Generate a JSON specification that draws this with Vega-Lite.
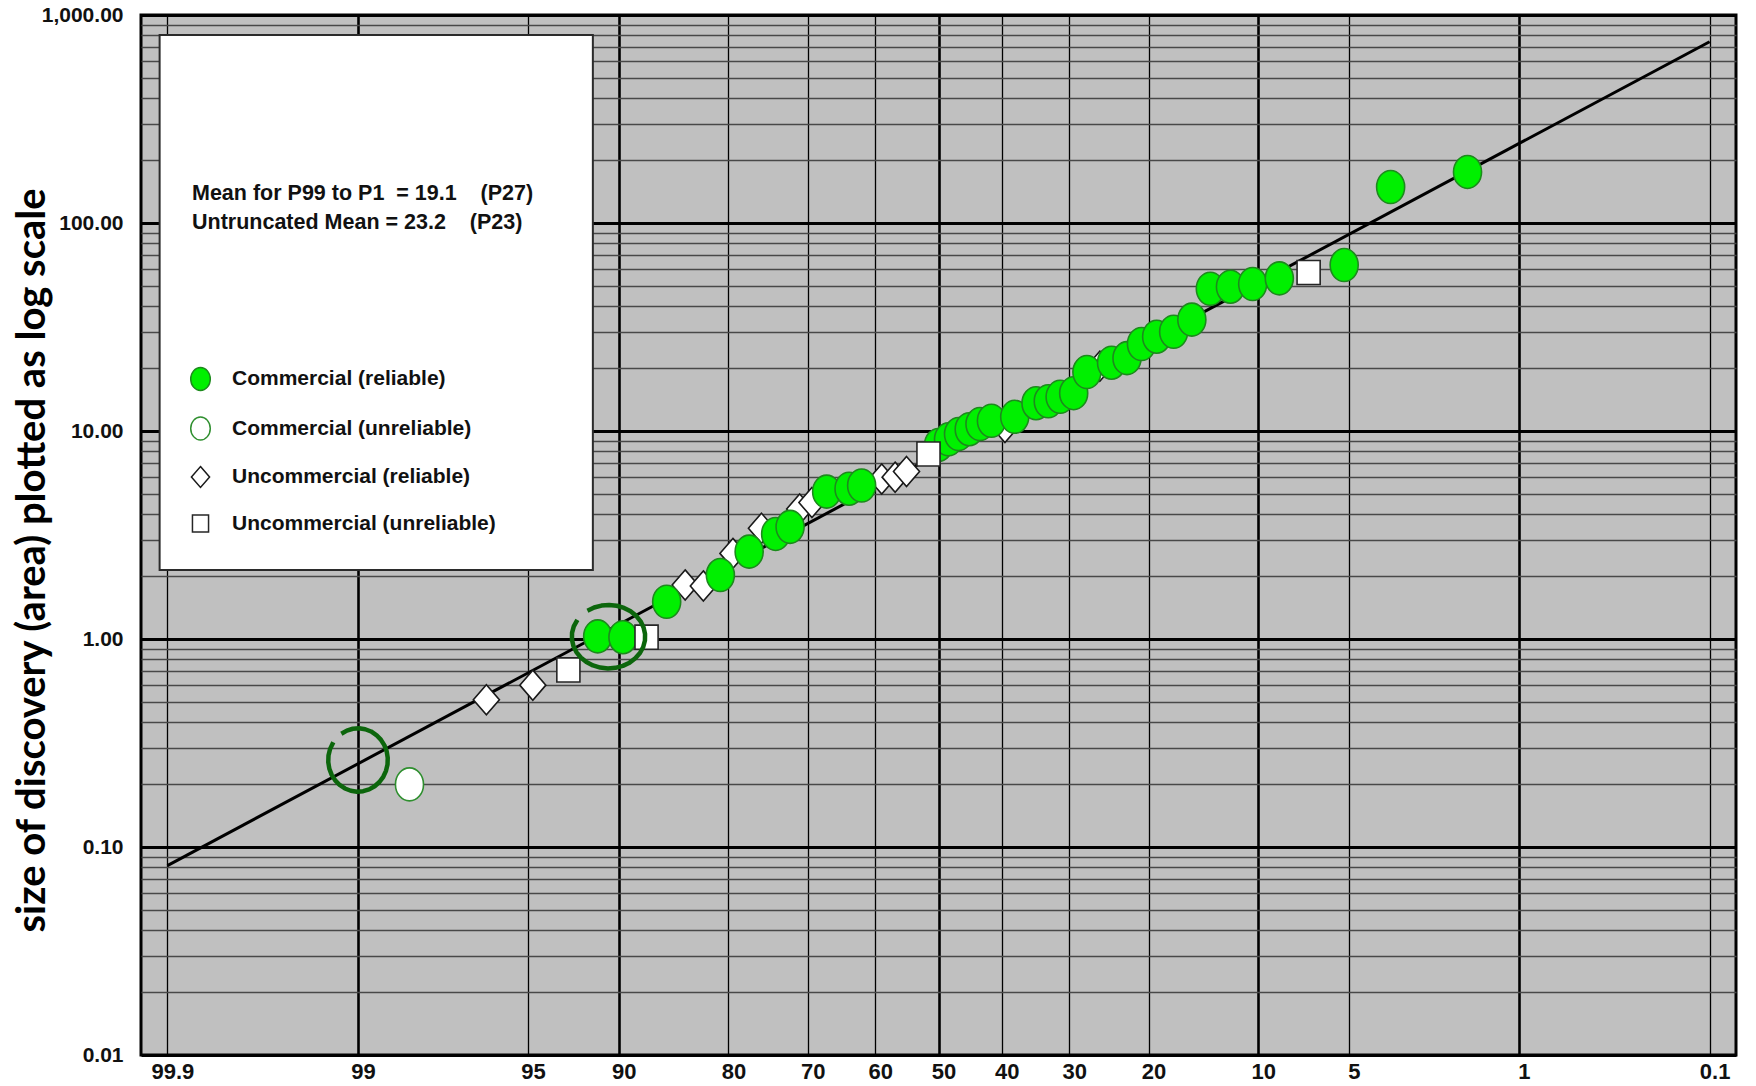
{
  "$schema": "https://vega.github.io/schema/vega-lite/v6.json",
  "width": 1595,
  "height": 1040,
  "autosize": {"type": "none"},
  "padding": {"left": 141, "top": 15, "right": 20, "bottom": 31},
  "background": "#ffffff",
  "config": {
    "view": {"fill": "#c0c0c0", "stroke": "#000000", "strokeWidth": 3},
    "font": "Liberation Sans"
  },
  "datasets": {
    "discoveries": [
      {"p": 96.5, "v": 0.51, "type": "Uncommercial (reliable)"},
      {"p": 94.8, "v": 0.60, "type": "Uncommercial (reliable)"},
      {"p": 84.5, "v": 1.82, "type": "Uncommercial (reliable)"},
      {"p": 82.7, "v": 1.80, "type": "Uncommercial (reliable)"},
      {"p": 79.5, "v": 2.58, "type": "Uncommercial (reliable)"},
      {"p": 76.1, "v": 3.41, "type": "Uncommercial (reliable)"},
      {"p": 71.1, "v": 4.22, "type": "Uncommercial (reliable)"},
      {"p": 69.4, "v": 4.53, "type": "Uncommercial (reliable)"},
      {"p": 59.0, "v": 5.88, "type": "Uncommercial (reliable)"},
      {"p": 56.9, "v": 6.00, "type": "Uncommercial (reliable)"},
      {"p": 55.1, "v": 6.39, "type": "Uncommercial (reliable)"},
      {"p": 39.5, "v": 10.4, "type": "Uncommercial (reliable)"},
      {"p": 25.9, "v": 20.5, "type": "Uncommercial (reliable)"},
      {"p": 91.4, "v": 1.03, "type": "Commercial (reliable)"},
      {"p": 89.7, "v": 1.02, "type": "Commercial (reliable)"},
      {"p": 86.2, "v": 1.51, "type": "Commercial (reliable)"},
      {"p": 80.9, "v": 2.03, "type": "Commercial (reliable)"},
      {"p": 77.6, "v": 2.63, "type": "Commercial (reliable)"},
      {"p": 74.3, "v": 3.20, "type": "Commercial (reliable)"},
      {"p": 72.4, "v": 3.46, "type": "Commercial (reliable)"},
      {"p": 67.3, "v": 5.11, "type": "Commercial (reliable)"},
      {"p": 64.0, "v": 5.28, "type": "Commercial (reliable)"},
      {"p": 62.1, "v": 5.47, "type": "Commercial (reliable)"},
      {"p": 50.0, "v": 8.57, "type": "Commercial (reliable)"},
      {"p": 48.4, "v": 9.12, "type": "Commercial (reliable)"},
      {"p": 46.8, "v": 9.67, "type": "Commercial (reliable)"},
      {"p": 45.1, "v": 10.2, "type": "Commercial (reliable)"},
      {"p": 43.4, "v": 10.8, "type": "Commercial (reliable)"},
      {"p": 41.6, "v": 11.2, "type": "Commercial (reliable)"},
      {"p": 38.0, "v": 11.7, "type": "Commercial (reliable)"},
      {"p": 34.8, "v": 13.6, "type": "Commercial (reliable)"},
      {"p": 33.0, "v": 13.9, "type": "Commercial (reliable)"},
      {"p": 31.3, "v": 14.6, "type": "Commercial (reliable)"},
      {"p": 29.4, "v": 15.2, "type": "Commercial (reliable)"},
      {"p": 27.6, "v": 19.2, "type": "Commercial (reliable)"},
      {"p": 24.4, "v": 21.3, "type": "Commercial (reliable)"},
      {"p": 22.5, "v": 22.4, "type": "Commercial (reliable)"},
      {"p": 20.8, "v": 26.2, "type": "Commercial (reliable)"},
      {"p": 19.1, "v": 28.4, "type": "Commercial (reliable)"},
      {"p": 17.3, "v": 30.0, "type": "Commercial (reliable)"},
      {"p": 15.5, "v": 34.3, "type": "Commercial (reliable)"},
      {"p": 13.8, "v": 48.3, "type": "Commercial (reliable)"},
      {"p": 12.1, "v": 49.4, "type": "Commercial (reliable)"},
      {"p": 10.4, "v": 50.9, "type": "Commercial (reliable)"},
      {"p": 8.6, "v": 54.2, "type": "Commercial (reliable)"},
      {"p": 5.2, "v": 62.8, "type": "Commercial (reliable)"},
      {"p": 3.5, "v": 149, "type": "Commercial (reliable)"},
      {"p": 1.7, "v": 176, "type": "Commercial (reliable)"},
      {"p": 93.1, "v": 0.71, "type": "Uncommercial (unreliable)"},
      {"p": 87.9, "v": 1.02, "type": "Uncommercial (unreliable)"},
      {"p": 51.6, "v": 7.75, "type": "Uncommercial (unreliable)"},
      {"p": 6.9, "v": 57.8, "type": "Uncommercial (unreliable)"},
      {"p": 98.3, "v": 0.20, "type": "Commercial (unreliable)"}
    ],
    "fit": [
      {"p": 99.9, "v": 0.0814},
      {"p": 0.1, "v": 744}
    ],
    "keybox": [
      {"p": 99.91, "pEnd": 91.7, "v": 2.147, "vEnd": 801}
    ],
    "ringLow": [{"p": 99.0, "v": 0.262}],
    "ringMid": [{"p": 90.7, "v": 1.026}]
  },
  "encoding": {
    "x": {
      "field": "z",
      "type": "quantitative",
      "scale": {"domain": [-3.196, 3.196], "nice": false, "zero": false},
      "axis": {
        "title": null,
        "values": [-3.0902, -2.3263, -1.6449, -1.2816, -0.8416, -0.5244, -0.2533, 0, 0.2533, 0.5244, 0.8416, 1.2816, 1.6449, 2.3263, 3.0902],
        "labelExpr": "format(100 * cumulativeNormal(-datum.value), '.3~r')",
        "labelFont": "Liberation Sans",
        "labelFontWeight": "bold",
        "labelFontSize": 22,
        "labelColor": "#111111",
        "labelPadding": 6,
        "labelOffset": 5,
        "labelFlush": false,
        "labelOverlap": false,
        "ticks": false,
        "tickSize": 0,
        "domain": false,
        "grid": true,
        "gridColor": "#000000",
        "gridWidth": {
          "condition": {"test": "abs(datum.value) < 0.01 || abs(abs(datum.value) - 1.2816) < 0.01 || abs(abs(datum.value) - 2.3263) < 0.01", "value": 2.6},
          "value": 1.3
        }
      }
    },
    "y": {
      "field": "v",
      "type": "quantitative",
      "scale": {"type": "log", "domain": [0.01, 1000], "nice": false},
      "axis": {
        "title": "size of discovery (area) plotted as log scale",
        "titleFont": "Lato",
        "titleFontSize": 40,
        "titleFontWeight": "bold",
        "titleColor": "#000000",
        "titleAngle": -90,
        "titleX": -109,
        "titleY": 545,
        "titleAlign": "center",
        "titleBaseline": "middle",
        "values": [0.01, 0.02, 0.03, 0.04, 0.05, 0.06, 0.07, 0.08, 0.09, 0.1, 0.2, 0.3, 0.4, 0.5, 0.6, 0.7, 0.8, 0.9, 1, 2, 3, 4, 5, 6, 7, 8, 9, 10, 20, 30, 40, 50, 60, 70, 80, 90, 100, 200, 300, 400, 500, 600, 700, 800, 900, 1000],
        "labelExpr": "abs(log(datum.value) / LN10 - round(log(datum.value) / LN10)) < 0.001 ? format(datum.value, ',.2f') : ''",
        "labelFont": "Liberation Sans",
        "labelFontWeight": "bold",
        "labelFontSize": 21,
        "labelColor": "#111111",
        "labelPadding": 18,
        "labelOverlap": false,
        "ticks": false,
        "tickSize": 0,
        "domain": false,
        "grid": true,
        "gridColor": {
          "condition": {"test": "abs(log(datum.value) / LN10 - round(log(datum.value) / LN10)) < 0.001", "value": "#000000"},
          "value": "#484848"
        },
        "gridWidth": {
          "condition": {"test": "abs(log(datum.value) / LN10 - round(log(datum.value) / LN10)) < 0.001", "value": 3},
          "value": 1.5
        }
      }
    }
  },
  "layer": [
    {
      "data": {"name": "keybox"},
      "transform": [
        {"calculate": "quantileNormal(1 - datum.p / 100)", "as": "z"},
        {"calculate": "quantileNormal(1 - datum.pEnd / 100)", "as": "zEnd"}
      ],
      "mark": {"type": "rect", "fill": "#ffffff", "stroke": "#2b2b2b", "strokeWidth": 2},
      "encoding": {
        "x2": {"field": "zEnd"},
        "y2": {"field": "vEnd"}
      }
    },
    {
      "data": {"name": "fit"},
      "transform": [
        {"calculate": "quantileNormal(1 - datum.p / 100)", "as": "z"}
      ],
      "mark": {"type": "line", "color": "#000000", "strokeWidth": 3},
      "encoding": {}
    },
    {
      "data": {"name": "discoveries"},
      "transform": [
        {"calculate": "quantileNormal(1 - datum.p / 100)", "as": "z"}
      ],
      "mark": {"type": "point", "filled": true, "opacity": 1, "size": 1089, "strokeWidth": 1.6},
      "encoding": {
        "shape": {
          "field": "type",
          "type": "nominal",
          "scale": {
            "domain": ["Commercial (reliable)", "Commercial (unreliable)", "Uncommercial (reliable)", "Uncommercial (unreliable)"],
            "range": [
              "M -0.85,0 A 0.85,1 0 1,0 0.85,0 A 0.85,1 0 1,0 -0.85,0 Z",
              "M -0.85,0 A 0.85,1 0 1,0 0.85,0 A 0.85,1 0 1,0 -0.85,0 Z",
              "M 0,-0.91 L 0.79,0 L 0,0.91 L -0.79,0 Z",
              "M -0.7,-0.73 L 0.7,-0.73 L 0.7,0.73 L -0.7,0.73 Z"
            ]
          },
          "legend": {
            "orient": "none", "legendX": 51, "legendY": 168, "padding": 0,
            "title": ["Mean for P99 to P1\u00a0\u00a0= 19.1\u00a0\u00a0\u00a0\u00a0(P27)", "Untruncated Mean = 23.2\u00a0\u00a0\u00a0\u00a0(P23)"],
            "titleFont": "Liberation Sans", "titleFontSize": 21.5, "titleFontWeight": "bold", "titleColor": "#111111",
            "titleLineHeight": 29, "titlePadding": 133, "titleLimit": 600, "titleAnchor": "start",
            "labelFont": "Liberation Sans", "labelFontSize": 21, "labelFontWeight": "bold", "labelColor": "#111111",
            "labelLimit": 600, "labelOffset": 19, "symbolOffset": -4, "symbolSize": 529, "symbolStrokeWidth": 1.5, "rowPadding": 20.5
          }
        },
        "fill": {
          "field": "type",
          "type": "nominal",
          "scale": {
            "domain": ["Commercial (reliable)", "Commercial (unreliable)", "Uncommercial (reliable)", "Uncommercial (unreliable)"],
            "range": ["#00f000", "#ffffff", "#ffffff", "#ffffff"]
          },
          "legend": {
            "orient": "none", "legendX": 51, "legendY": 168, "padding": 0,
            "title": ["Mean for P99 to P1\u00a0\u00a0= 19.1\u00a0\u00a0\u00a0\u00a0(P27)", "Untruncated Mean = 23.2\u00a0\u00a0\u00a0\u00a0(P23)"],
            "titleFont": "Liberation Sans", "titleFontSize": 21.5, "titleFontWeight": "bold", "titleColor": "#111111",
            "titleLineHeight": 29, "titlePadding": 133, "titleLimit": 600, "titleAnchor": "start",
            "labelFont": "Liberation Sans", "labelFontSize": 21, "labelFontWeight": "bold", "labelColor": "#111111",
            "labelLimit": 600, "labelOffset": 19, "symbolOffset": -4, "symbolSize": 529, "symbolStrokeWidth": 1.5, "rowPadding": 20.5
          }
        },
        "stroke": {
          "field": "type",
          "type": "nominal",
          "scale": {
            "domain": ["Commercial (reliable)", "Commercial (unreliable)", "Uncommercial (reliable)", "Uncommercial (unreliable)"],
            "range": ["#1d8a1d", "#2f8f2f", "#1a1a1a", "#262626"]
          },
          "legend": {
            "orient": "none", "legendX": 51, "legendY": 168, "padding": 0,
            "title": ["Mean for P99 to P1\u00a0\u00a0= 19.1\u00a0\u00a0\u00a0\u00a0(P27)", "Untruncated Mean = 23.2\u00a0\u00a0\u00a0\u00a0(P23)"],
            "titleFont": "Liberation Sans", "titleFontSize": 21.5, "titleFontWeight": "bold", "titleColor": "#111111",
            "titleLineHeight": 29, "titlePadding": 133, "titleLimit": 600, "titleAnchor": "start",
            "labelFont": "Liberation Sans", "labelFontSize": 21, "labelFontWeight": "bold", "labelColor": "#111111",
            "labelLimit": 600, "labelOffset": 19, "symbolOffset": -4, "symbolSize": 529, "symbolStrokeWidth": 1.5, "rowPadding": 20.5
          }
        }
      }
    },
    {
      "data": {"name": "ringLow"},
      "transform": [
        {"calculate": "quantileNormal(1 - datum.p / 100)", "as": "z"}
      ],
      "mark": {
        "type": "point",
        "shape": "M -0.526,-0.829 L -0.352,-0.927 L -0.163,-0.985 L 0.033,-0.999 L 0.227,-0.970 L 0.412,-0.899 L 0.579,-0.788 L 0.720,-0.643 L 0.830,-0.469 L 0.904,-0.276 L 0.938,-0.070 L 0.931,0.139 L 0.883,0.342 L 0.797,0.530 L 0.676,0.695 L 0.526,0.829 L 0.352,0.927 L 0.163,0.985 L -0.033,0.999 L -0.227,0.970 L -0.412,0.899 L -0.579,0.788 L -0.720,0.643 L -0.830,0.469 L -0.904,0.276 L -0.938,0.070 L -0.931,-0.139 L -0.883,-0.342 L -0.779,-0.559",
        "size": 4020,
        "filled": false,
        "opacity": 1,
        "stroke": "#0c660c",
        "strokeWidth": 4.5,
        "strokeJoin": "round"
      }
    },
    {
      "data": {"name": "ringMid"},
      "transform": [
        {"calculate": "quantileNormal(1 - datum.p / 100)", "as": "z"}
      ],
      "mark": {
        "type": "point",
        "shape": "M -0.574,-0.708 L -0.391,-0.795 L -0.191,-0.848 L 0.017,-0.864 L 0.225,-0.842 L 0.423,-0.783 L 0.602,-0.690 L 0.755,-0.567 L 0.875,-0.419 L 0.956,-0.253 L 0.996,-0.075 L 0.993,0.105 L 0.946,0.281 L 0.857,0.445 L 0.731,0.589 L 0.574,0.708 L 0.391,0.795 L 0.191,0.848 L -0.017,0.864 L -0.225,0.842 L -0.423,0.783 L -0.602,0.690 L -0.755,0.567 L -0.875,0.419 L -0.956,0.253 L -0.996,0.075 L -0.993,-0.105 L -0.946,-0.281 L -0.848,-0.458",
        "size": 5388,
        "filled": false,
        "opacity": 1,
        "stroke": "#0c660c",
        "strokeWidth": 4.5,
        "strokeJoin": "round"
      }
    }
  ]
}
